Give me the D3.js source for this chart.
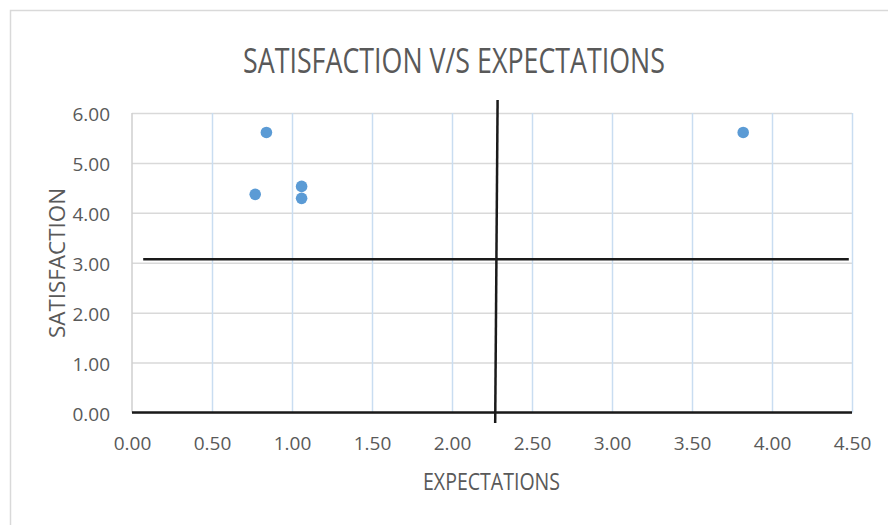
<!DOCTYPE html>
<html>
<head>
<meta charset="utf-8">
<script src="https://cdn.jsdelivr.net/npm/d3@7"></script>
<style>
  html, body { margin: 0; padding: 0; background: #fff; }
  svg { display: block; }
</style>
</head>
<body>
<svg id="chart" width="888" height="525"></svg>
<script>
// ---- data ----
const expectations = [0.84, 0.77, 1.06, 1.06, 3.82];
const satisfaction = [5.61, 4.37, 4.53, 4.29, 5.61];
const xTicks = [0, 0.5, 1, 1.5, 2, 2.5, 3, 3.5, 4, 4.5];
const yTicks = [0, 1, 2, 3, 4, 5, 6];
const hLineX = [0.07, 4.48];
const hLineY = [3.07, 3.07];
const vLineX = [2.27, 2.285];
const vLineY = [-0.21, 6.26];
const titleText = "SATISFACTION V/S EXPECTATIONS";
const xTitle = "EXPECTATIONS";
const yTitle = "SATISFACTION";

// ---- layout ----
const svg = d3.select("#chart");
const x = d3.scaleLinear().domain([0, 4.5]).range([132, 852]);
const y = d3.scaleLinear().domain([0, 6]).range([412.5, 113]);
const fmt = d3.format(".2f");
const textColor = "#595959";
const font = "'Open Sans', 'Liberation Sans', sans-serif";

// chart frame
svg.append("rect")
  .attr("x", 10.5).attr("y", 10.5)
  .attr("width", 900).attr("height", 530)
  .attr("fill", "#fff").attr("stroke", "#d9d9d9").attr("stroke-width", 1.5);

// horizontal gridlines
const gy = svg.append("g")
  .attr("transform", `translate(${x(0)},0)`)
  .call(d3.axisLeft(y).tickValues(yTicks).tickSize(-(x(4.5) - x(0))).tickFormat(""));
gy.select(".domain").remove();
gy.selectAll(".tick line").attr("stroke", "#d9d9d9").attr("stroke-width", 1.5);

// vertical gridlines
const gx = svg.append("g")
  .attr("transform", `translate(0,${y(0)})`)
  .call(d3.axisBottom(x).tickValues(xTicks.filter(d => d > 0)).tickSize(-(y(0) - y(6))).tickFormat(""));
gx.select(".domain").remove();
gx.selectAll(".tick line").attr("stroke", "#c9ddf1").attr("stroke-width", 1.5);

// y axis line (light gray)
svg.append("line")
  .attr("x1", x(0)).attr("x2", x(0)).attr("y1", y(0)).attr("y2", y(6))
  .attr("stroke", "#cfcfcf").attr("stroke-width", 1.5);

// x axis line (black)
svg.append("line")
  .attr("x1", x(0)).attr("x2", x(4.5)).attr("y1", y(0)).attr("y2", y(0))
  .attr("stroke", "#1a1a1a").attr("stroke-width", 2.5);

// tick labels
const xl = svg.append("g")
  .attr("transform", `translate(0,${y(0)})`)
  .call(d3.axisBottom(x).tickValues(xTicks).tickSize(0).tickPadding(0).tickFormat(fmt));
xl.select(".domain").remove();
xl.selectAll("text")
  .attr("y", 37).attr("dy", null)
  .attr("fill", textColor).style("font-family", font).style("font-size", "19px");

const yl = svg.append("g")
  .attr("transform", `translate(${x(0)},0)`)
  .call(d3.axisLeft(y).tickValues(yTicks).tickSize(0).tickPadding(0).tickFormat(fmt));
yl.select(".domain").remove();
yl.selectAll("text")
  .attr("x", -22).attr("dy", "0.42em")
  .attr("fill", textColor).style("font-family", font).style("font-size", "19px");

// reference lines (black)
const line = d3.line().x(d => x(d[0])).y(d => y(d[1]));
svg.append("path")
  .datum(hLineX.map((v, i) => [v, hLineY[i]]))
  .attr("d", line).attr("fill", "none")
  .attr("stroke", "#1a1a1a").attr("stroke-width", 2.5);
svg.append("path")
  .datum(vLineX.map((v, i) => [v, vLineY[i]]))
  .attr("d", line).attr("fill", "none")
  .attr("stroke", "#1a1a1a").attr("stroke-width", 2.5);

// points
svg.append("g").selectAll("circle")
  .data(expectations.map((v, i) => [v, satisfaction[i]]))
  .join("circle")
  .attr("cx", d => x(d[0])).attr("cy", d => y(d[1]))
  .attr("r", 5.8).attr("fill", "#5b9bd5");

// title
svg.append("text")
  .attr("x", 454).attr("y", 73)
  .attr("text-anchor", "middle")
  .attr("textLength", 422).attr("lengthAdjust", "spacingAndGlyphs")
  .attr("fill", textColor).style("font-family", font).style("font-size", "35px")
  .text(titleText);

// axis titles
svg.append("text")
  .attr("x", 491.5).attr("y", 490)
  .attr("text-anchor", "middle")
  .attr("textLength", 137).attr("lengthAdjust", "spacingAndGlyphs")
  .attr("fill", textColor).style("font-family", font).style("font-size", "23px")
  .text(xTitle);

svg.append("text")
  .attr("transform", "translate(65,263) rotate(-90)")
  .attr("text-anchor", "middle")
  .attr("textLength", 150).attr("lengthAdjust", "spacingAndGlyphs")
  .attr("fill", textColor).style("font-family", font).style("font-size", "21px")
  .text(yTitle);
</script>
</body>
</html>
